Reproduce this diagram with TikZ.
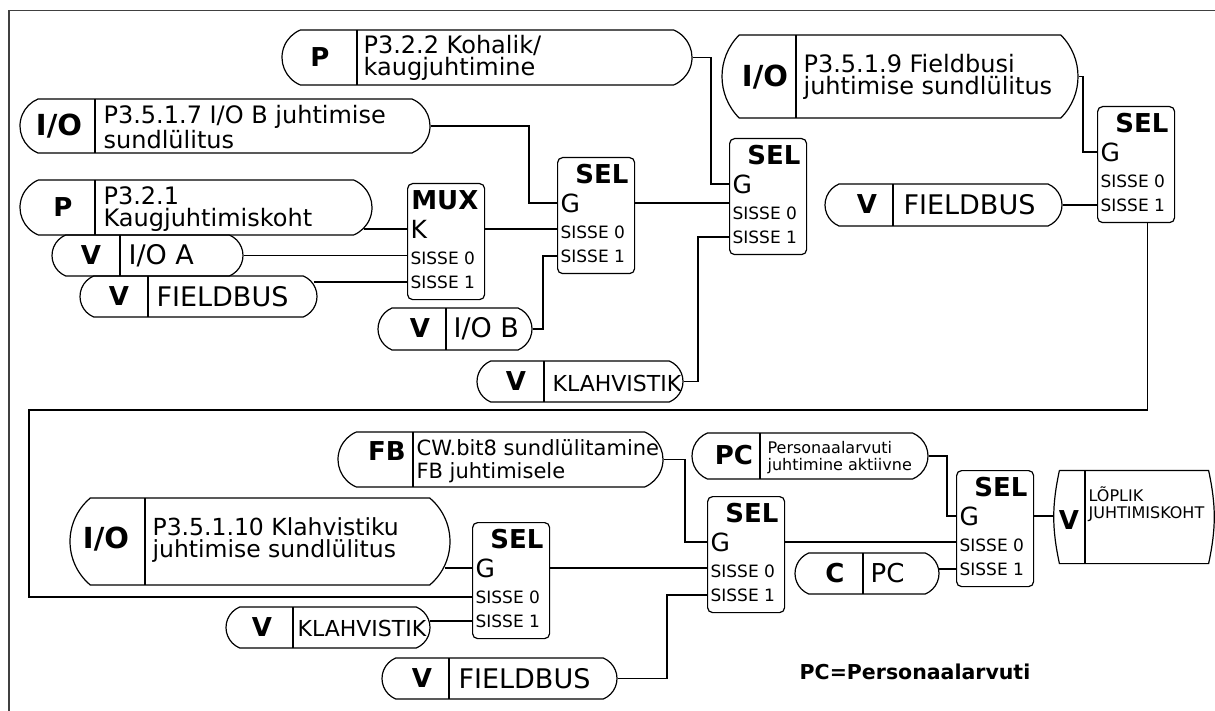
\documentclass[tikz,border=0pt]{standalone}
\usepackage{fontspec}
\setmainfont{DejaVu Sans}
\usetikzlibrary{shapes.misc,calc}

\begin{document}
\begin{tikzpicture}[x=1pt, y=-1pt, line width=1.2pt,
    pill/.style={draw, rounded rectangle, rounded rectangle arc length=135, inner sep=0pt},
    tag/.style={inner sep=0pt, font=\bfseries\fontsize{26}{26}\selectfont},
    iotag/.style={tag, font=\bfseries\fontsize{29}{29}\selectfont},
    ptxt/.style={anchor=west, align=left, inner sep=0pt, font=\fontsize{24}{22}\selectfont},
    vtxt/.style={anchor=west, inner sep=0pt, font=\fontsize{27}{27}\selectfont},
    smalltxt/.style={anchor=west, align=left, inner sep=0pt, font=\fontsize{16}{17}\selectfont},
    block/.style={draw, rounded corners=5pt, anchor=north west, minimum width=77, minimum height=116, inner sep=0pt},
    blktitle/.style={anchor=east, inner sep=0pt, font=\bfseries\fontsize{26}{26}\selectfont},
    blkg/.style={anchor=west, inner sep=0pt, font=\fontsize{25}{25}\selectfont},
    blkin/.style={anchor=west, inner sep=0pt, font=\fontsize{17}{17}\selectfont}]

    \useasboundingbox (0,0) rectangle (1215,711);

    % Outer frame
    \draw[line width=1.6pt, black!75] (9,711) -- (9,10.5) -- (1215,10.5);

    % Logic blocks
    \foreach \n/\x/\y/\t/\g in {mux/407/183/MUX/K, sel1/557/157/SEL/G, sel2/729/138/SEL/G,
        sel3/1097/106/SEL/G, sel4/472/522/SEL/G, sel5/707/496/SEL/G, sel6/956/470/SEL/G} {
        \node[block] (\n) at (\x,\y) {};
        \node[blktitle] (\n-t) at ($(\n.north west)+(72,17)$) {\t};
        \node[blkg] (\n-g) at ($(\n.north west)+(3,46)$) {\g};
        \node[blkin] (\n-in0) at ($(\n.north west)+(3,75)$) {SISSE 0};
        \node[blkin] (\n-in1) at ($(\n.north west)+(3,99)$) {SISSE 1};
    }

    % P3.2.2
    \node[pill, minimum width=410, minimum height=55] (kohalik) at (487,57.5) {};
    \draw (357,30) -- (357,85);
    \node[tag] (kohalik-tag) at (320,57.5) {P};
    \node[ptxt] (kohalik-txt) at (363,57.5) {P3.2.2 Kohalik/\\kaugjuhtimine};

    % P3.5.1.7
    \node[pill, minimum width=410, minimum height=54] (iobforce) at (225,126) {};
    \draw (95,99) -- (95,153);
    \node[iotag] (iobforce-tag) at (59,126) {I/O};
    \node[ptxt] (iobforce-txt) at (103,127) {P3.5.1.7 I/O B juhtimise\\sundlülitus};

    % P3.2.1
    \node[pill, minimum width=352, minimum height=55] (remote) at (196,207.5) {};
    \draw (95,180) -- (95,235);
    \node[tag] (remote-tag) at (63,207.5) {P};
    \node[ptxt] (remote-txt) at (103,209) {P3.2.1\\Kaugjuhtimiskoht};

    % I/O A
    \node[pill, minimum width=191, minimum height=41] (ioA) at (147.5,255.5) {};
    \draw (120,235) -- (120,276);
    \node[tag] (ioA-tag) at (91,255.5) {V};
    \node[vtxt] (ioA-txt) at (128,255.5) {I/O A};

    % FIELDBUS (MUX)
    \node[pill, minimum width=237, minimum height=41] (fbA) at (198.5,296.5) {};
    \draw (148,276) -- (148,317);
    \node[tag] (fbA-tag) at (119,296.5) {V};
    \node[vtxt] (fbA-txt) at (156,296.5) {FIELDBUS};

    % I/O B
    \node[pill, minimum width=154, minimum height=42] (ioB) at (455,329) {};
    \draw (446,308) -- (446,350);
    \node[tag] (ioB-tag) at (420,328) {V};
    \node[vtxt] (ioB-txt) at (453,329) {I/O B};

    % KLAHVISTIK (SEL 2)
    \node[pill, minimum width=206, minimum height=41] (keypadA) at (580,381.5) {};
    \draw (544,361) -- (544,402);
    \node[tag] (keypadA-tag) at (516,381) {V};
    \node[vtxt, font=\fontsize{22}{22}\selectfont] (keypadA-txt) at (552,383) {KLAHVISTIK};

    % P3.5.1.9
    \node[pill, rounded rectangle arc length=90, minimum width=356, minimum height=83] (fbforce) at (900,76.5) {};
    \draw (796,35) -- (796,118);
    \node[iotag] (fbforce-tag) at (765,77.5) {I/O};
    \node[ptxt] (fbforce-txt) at (803,76.5) {P3.5.1.9 Fieldbusi\\juhtimise sundlülitus};

    % FIELDBUS (SEL 3)
    \node[pill, minimum width=237, minimum height=42] (fbB) at (943.5,205) {};
    \draw (893,184) -- (893,226);
    \node[tag] (fbB-tag) at (867,204) {V};
    \node[vtxt] (fbB-txt) at (903,205) {FIELDBUS};

    % CW.bit8
    \node[pill, minimum width=325, minimum height=55] (cwbit) at (500.5,459.5) {};
    \draw (413,432) -- (413,487);
    \node[tag] (cwbit-tag) at (387,451) {FB};
    \node[ptxt, font=\fontsize{21}{23}\selectfont] (cwbit-txt) at (416,461) {CW.bit8 sundlülitamine\\FB juhtimisele};

    % P3.5.1.10
    \node[pill, rounded rectangle arc length=100, minimum width=380, minimum height=87] (kpforce) at (260,541.5) {};
    \draw (145,498) -- (145,585);
    \node[iotag] (kpforce-tag) at (106,539) {I/O};
    \node[ptxt, font=\fontsize{23.5}{22}\selectfont] (kpforce-txt) at (152,540) {P3.5.1.10 Klahvistiku\\juhtimise sundlülitus};

    % KLAHVISTIK (SEL 4)
    \node[pill, minimum width=204, minimum height=41] (keypadB) at (328,627.5) {};
    \draw (293,607) -- (293,648);
    \node[tag] (keypadB-tag) at (262,627.5) {V};
    \node[vtxt, font=\fontsize{22}{22}\selectfont] (keypadB-txt) at (297,628) {KLAHVISTIK};

    % FIELDBUS (SEL 5)
    \node[pill, minimum width=235, minimum height=41] (fbC) at (499.5,678.5) {};
    \draw (449,658) -- (449,699);
    \node[tag] (fbC-tag) at (422,678.5) {V};
    \node[vtxt] (fbC-txt) at (458,678.5) {FIELDBUS};

    % Personaalarvuti
    \node[pill, minimum width=236, minimum height=46] (pcact) at (810,456) {};
    \draw (760,433) -- (760,479);
    \node[tag] (pcact-tag) at (734,455) {PC};
    \node[smalltxt] (pcact-txt) at (767,458) {Personaalarvuti\\juhtimine aktiivne};

    % C PC
    \node[pill, minimum width=144, minimum height=41] (pcconst) at (867,573.5) {};
    \draw (863,553) -- (863,594);
    \node[tag] (pcconst-tag) at (835,573.5) {C};
    \node[vtxt, font=\fontsize{26}{26}\selectfont] (pcconst-txt) at (870,573.5) {PC};

    % Final control place
    \node[minimum width=148, minimum height=92, inner sep=0pt] (final) at (1134,517) {};
    \draw (final.north west) -- (final.north east) to[bend left=12] (final.south east)
        -- (final.south west) to[bend left=12] (final.north west);
    \draw (1085,471) -- (1085,563);
    \node[tag] (final-tag) at (1069,520) {V};
    \node[smalltxt] (final-txt) at (1088,504) {LÕPLIK\\JUHTIMISKOHT};

    % Connections into MUX
    \draw ($(remote.east |- mux-g)+(-9,0)$) -- (mux.west |- mux-g);
    \draw (ioA.east) -- (ioA.east -| mux.west);
    \draw ($(fbA.east |- mux-in1)+(-4,0)$) -- (mux.west |- mux-in1);

    % Into SEL 1
    \draw (mux.east |- mux-g) -- (sel1.west |- mux-g);
    \draw (iobforce.east) -| ($(sel1.west |- sel1-g)+(-28,0)$) -- (sel1.west |- sel1-g);
    \draw (ioB.east) -| ($(sel1.west |- sel1-in1)+(-14,0)$) -- (sel1.west |- sel1-in1);

    % Into SEL 2
    \draw (sel1.east |- sel1-g) -- (sel2.west |- sel1-g);
    \draw (kohalik.east) -| ($(sel2.west |- sel2-g)+(-18,0)$) -- (sel2.west |- sel2-g);
    \draw (keypadA.east) -| ($(sel2.west |- sel2-in1)+(-31,0)$) -- (sel2.west |- sel2-in1);

    % Into SEL 3
    \draw (fbforce.east) -| ($(sel3.west |- sel3-g)+(-14,0)$) -- (sel3.west |- sel3-g);
    \draw (fbB.east) -- (fbB.east -| sel3.west);

    % SEL 3 output round to SEL 4
    \draw ($(sel3.south)+(11,0)$) |- (29,410) |- (sel4.west |- sel4-in0);

    % Into SEL 4
    \draw ($(kpforce.east |- sel4-g)+(-6,0)$) -- (sel4.west |- sel4-g);
    \draw ($(keypadB.east |- sel4-in1)+(-1,0)$) -- (sel4.west |- sel4-in1);

    % Into SEL 5
    \draw (sel4.east |- sel4-g) -- (sel5.west |- sel4-g);
    \draw (cwbit.east) -| ($(sel5.west |- sel5-g)+(-22,0)$) -- (sel5.west |- sel5-g);
    \draw (fbC.east) -| ($(sel5.west |- sel5-in1)+(-40,0)$) -- (sel5.west |- sel5-in1);

    % Into SEL 6 and out
    \draw (sel5.east |- sel5-g) -- (sel6.west |- sel5-g);
    \draw (pcact.east) -| ($(sel6.west |- sel6-g)+(-9,0)$) -- (sel6.west |- sel6-g);
    \draw ($(pcconst.east |- sel6-in1)+(-1,0)$) -- (sel6.west |- sel6-in1);
    \draw (sel6.east |- sel6-g) -- ($(final.west |- sel6-g)+(-5,0)$);

    % Legend
    \node[inner sep=0pt, font=\bfseries\fontsize{20.5}{20.5}\selectfont] (legend) at (915,672) {PC=Personaalarvuti};

\end{tikzpicture}
\end{document}
